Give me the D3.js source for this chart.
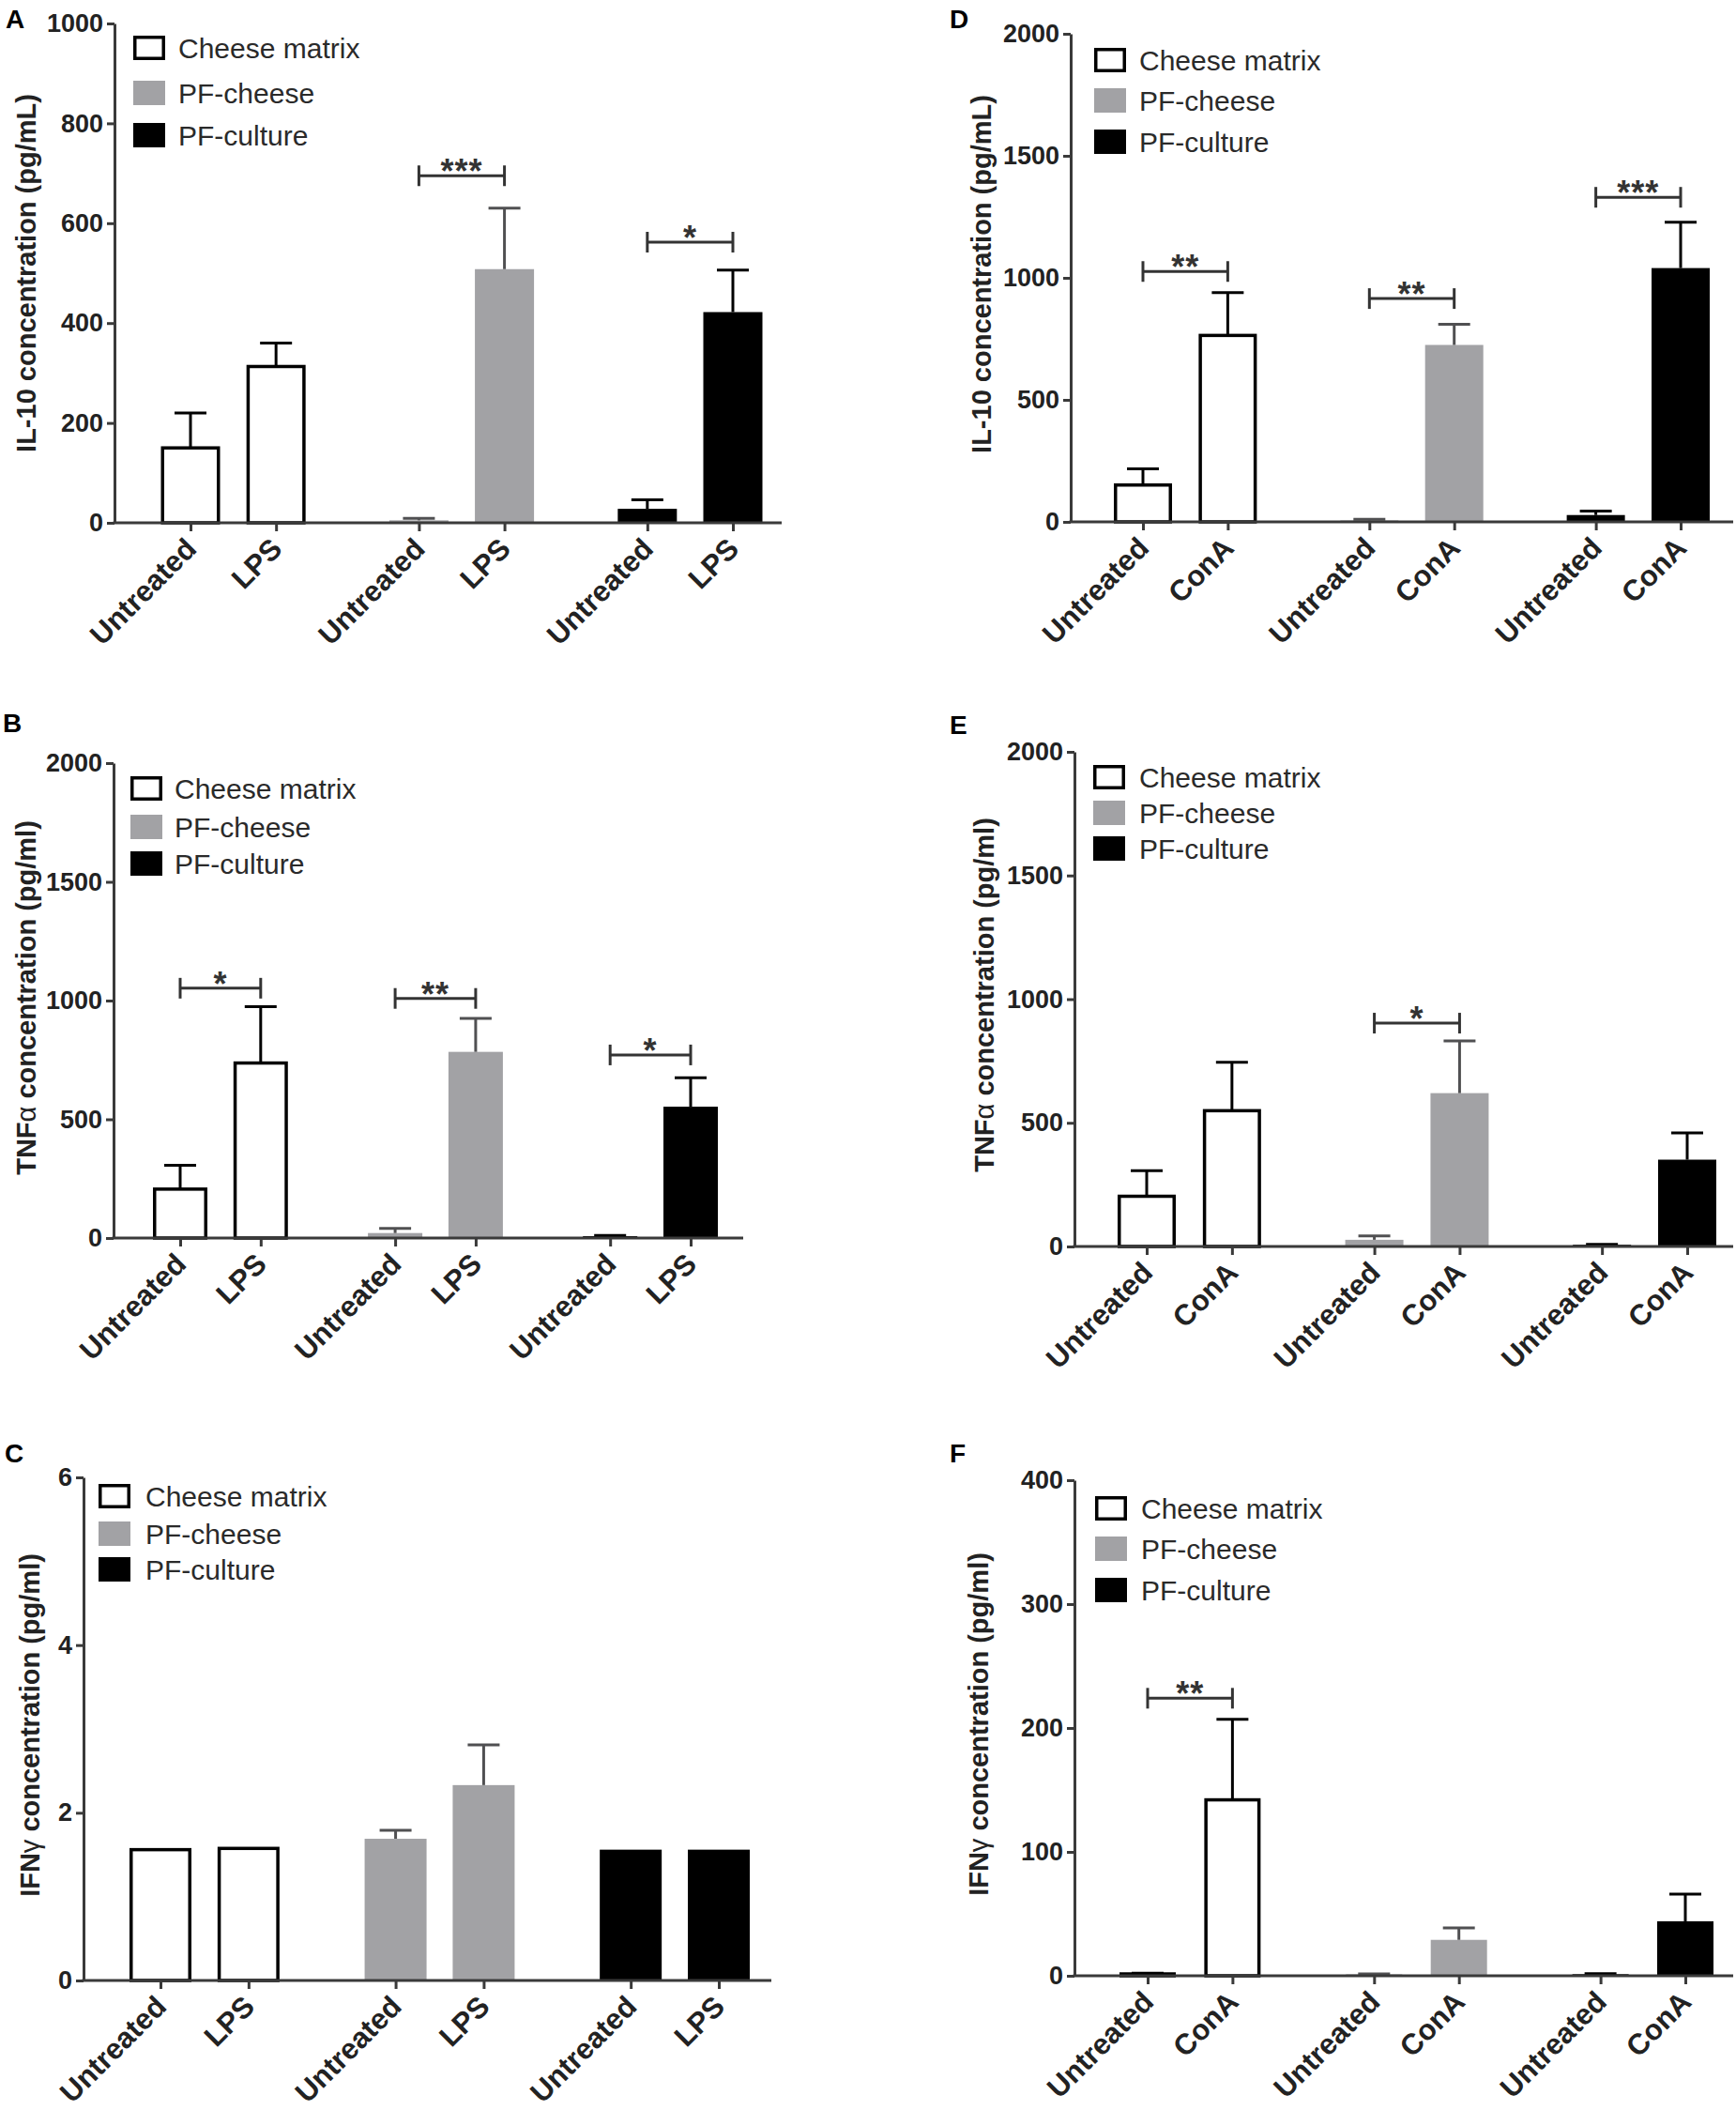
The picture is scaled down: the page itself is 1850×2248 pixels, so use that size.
<!DOCTYPE html>
<html>
<head>
<meta charset="utf-8">
<script src="https://cdn.jsdelivr.net/npm/d3@7"></script>
<style>
  body { margin: 0; background: #fff; }
  svg text { font-family: "Liberation Sans", Arial, Helvetica, sans-serif; }
</style>
</head>
<body>
<div id="chart"></div>
<script>
// ---- data ----
var seriesNames = ["Cheese matrix", "PF-cheese", "PF-culture"];
var lpsLabels = ["Untreated", "LPS"];
var conaLabels = ["Untreated", "ConA"];

// A: IL-10, LPS
var il10LpsMean = [[150, 313], [5, 508], [28, 422]];
var il10LpsErr  = [[70, 47], [4, 122], [18, 84]];
var il10LpsSig  = [{ group: 1, value: 695, label: "***" }, { group: 2, value: 562, label: "*" }];
var il10LpsTicks = [0, 200, 400, 600, 800, 1000];

// B: TNFa, LPS
var tnfLpsMean = [[206, 737], [21, 784], [8, 553]];
var tnfLpsErr  = [[100, 237], [20, 141], [3, 122]];
var tnfLpsSig  = [{ group: 0, value: 1052, label: "*" }, { group: 1, value: 1009, label: "**" }, { group: 2, value: 771, label: "*" }];
var tnfLpsTicks = [0, 500, 1000, 1500, 2000];

// C: IFNg, LPS
var ifnLpsMean = [[1.56, 1.575], [1.69, 2.33], [1.56, 1.56]];
var ifnLpsErr  = [[0, 0], [0.10, 0.48], [0, 0]];
var ifnLpsSig  = [];
var ifnLpsTicks = [0, 2, 4, 6];

// D: IL-10, ConA
var il10ConaMean = [[151, 764], [6, 725], [28, 1040]];
var il10ConaErr  = [[66, 175], [5, 85], [16, 188]];
var il10ConaSig  = [{ group: 0, value: 1026, label: "**" }, { group: 1, value: 915, label: "**" }, { group: 2, value: 1330, label: "***" }];
var il10ConaTicks = [0, 500, 1000, 1500, 2000];

// E: TNFa, ConA
var tnfConaMean = [[203, 549], [27, 620], [7, 351]];
var tnfConaErr  = [[103, 196], [16, 211], [2, 108]];
var tnfConaSig  = [{ group: 1, value: 903, label: "*" }];
var tnfConaTicks = [0, 500, 1000, 1500, 2000];

// F: IFNg, ConA
var ifnConaMean = [[1.5, 142], [1.2, 29], [1.3, 44]];
var ifnConaErr  = [[0.5, 65], [0.3, 9.6], [0.4, 22]];
var ifnConaSig  = [{ group: 0, value: 224, label: "**" }];
var ifnConaTicks = [0, 100, 200, 300, 400];

// ---- styles ----
var fills = ["#ffffff", "#a2a2a5", "#000000"];
var errColors = ["#000000", "#505052", "#000000"];
var axisColor = "#3a3a3a";
var groupStep = 2.67;

var svg = d3.select("#chart").append("svg")
  .attr("width", 1850)
  .attr("height", 2248);

var panels = [
  { letter: "A", lx: 6, ly: 30, title: ["IL-10 concentration (pg/mL)"], tx: 28, ty: 291,
    mean: il10LpsMean, err: il10LpsErr, sig: il10LpsSig, ticks: il10LpsTicks, cond: lpsLabels,
    left: 122, right: 833, top: 25, base: 557, c0: 203, c5: 781, bw: 63,
    legX: 142, legTx: 190, legY: [51, 99, 144] },
  { letter: "B", lx: 3, ly: 780, title: ["TNF", "α", " concentration (pg/ml)"], tx: 28, ty: 1063,
    mean: tnfLpsMean, err: tnfLpsErr, sig: tnfLpsSig, ticks: tnfLpsTicks, cond: lpsLabels,
    left: 121, right: 792, top: 813, base: 1319, c0: 192, c5: 736, bw: 58,
    legX: 139, legTx: 186, legY: [840, 881, 920] },
  { letter: "C", lx: 5, ly: 1558, title: ["IFN", "γ", " concentration (pg/ml)"], tx: 32, ty: 1838,
    mean: ifnLpsMean, err: ifnLpsErr, sig: ifnLpsSig, ticks: ifnLpsTicks, cond: lpsLabels,
    left: 89, right: 822, top: 1574, base: 2110, c0: 171, c5: 766, bw: 66,
    legX: 105, legTx: 155, legY: [1594, 1634, 1672] },
  { letter: "D", lx: 1012, ly: 30, title: ["IL-10 concentration (pg/mL)"], tx: 1046, ty: 292,
    mean: il10ConaMean, err: il10ConaErr, sig: il10ConaSig, ticks: il10ConaTicks, cond: conaLabels,
    left: 1141, right: 1847, top: 36, base: 556, c0: 1218, c5: 1791, bw: 62,
    legX: 1166, legTx: 1214, legY: [64, 107, 151] },
  { letter: "E", lx: 1012, ly: 782, title: ["TNF", "α", " concentration (pg/ml)"], tx: 1049, ty: 1060,
    mean: tnfConaMean, err: tnfConaErr, sig: tnfConaSig, ticks: tnfConaTicks, cond: conaLabels,
    left: 1145, right: 1847, top: 801, base: 1328, c0: 1222, c5: 1798, bw: 62,
    legX: 1165, legTx: 1214, legY: [828, 866, 904] },
  { letter: "F", lx: 1012, ly: 1558, title: ["IFN", "γ", " concentration (pg/ml)"], tx: 1043, ty: 1837,
    mean: ifnConaMean, err: ifnConaErr, sig: ifnConaSig, ticks: ifnConaTicks, cond: conaLabels,
    left: 1145, right: 1847, top: 1577, base: 2105, c0: 1223, c5: 1796, bw: 60,
    legX: 1167, legTx: 1216, legY: [1607, 1650, 1694] }
];

panels.forEach(drawPanel);

function drawPanel(p) {
  var g = svg.append("g");
  var maxTick = p.ticks[p.ticks.length - 1];

  var y = d3.scaleLinear().domain([0, maxTick]).range([p.base, p.top]);
  var x = d3.scaleLinear().domain([0, 2 * groupStep + 1]).range([p.c0, p.c5]);

  // flatten to one row per bar
  var bars = [];
  p.mean.forEach(function(row, s) {
    row.forEach(function(v, c) {
      bars.push({ s: s, c: c, key: s + "-" + c, mean: v, err: p.err[s][c], cx: x(s * groupStep + c) });
    });
  });

  // bars
  g.selectAll("rect.bar")
    .data(bars)
    .enter()
    .append("rect")
    .attr("class", "bar")
    .attr("x", function(d) { return d.s === 0 ? d.cx - p.bw / 2 + 1.75 : d.cx - p.bw / 2; })
    .attr("width", function(d) { return d.s === 0 ? p.bw - 3.5 : p.bw; })
    .attr("y", function(d) { return y(d.mean); })
    .attr("height", function(d) { return p.base - y(d.mean); })
    .attr("fill", function(d) { return fills[d.s]; })
    .attr("stroke", function(d) { return d.s === 0 ? "#000" : "none"; })
    .attr("stroke-width", 3.5);

  // error bars (upper only)
  var eb = g.selectAll("g.err")
    .data(bars.filter(function(d) { return d.err > 0; }))
    .enter()
    .append("g")
    .attr("stroke", function(d) { return errColors[d.s]; })
    .attr("stroke-width", 3);
  eb.append("line")
    .attr("x1", function(d) { return d.cx; })
    .attr("x2", function(d) { return d.cx; })
    .attr("y1", function(d) { return y(d.mean); })
    .attr("y2", function(d) { return y(d.mean + d.err); });
  eb.append("line")
    .attr("x1", function(d) { return d.cx - 17; })
    .attr("x2", function(d) { return d.cx + 17; })
    .attr("y1", function(d) { return y(d.mean + d.err); })
    .attr("y2", function(d) { return y(d.mean + d.err); });

  // y axis
  var yAxis = g.append("g")
    .attr("transform", "translate(" + p.left + ",0)")
    .call(d3.axisLeft(y).tickValues(p.ticks).tickFormat(d3.format("d"))
      .tickSize(8).tickSizeOuter(0).tickPadding(4));
  yAxis.select(".domain").attr("stroke", axisColor).attr("stroke-width", 3);
  yAxis.selectAll(".tick line").attr("stroke", axisColor).attr("stroke-width", 3);
  yAxis.selectAll(".tick text")
    .attr("fill", "#222")
    .attr("font-size", "27px")
    .attr("font-weight", "bold")
    .attr("font-family", "Liberation Sans, Arial, sans-serif");

  // x axis: ticks at bar centres
  var xCat = d3.scaleOrdinal()
    .domain(bars.map(function(d) { return d.key; }))
    .range(bars.map(function(d) { return d.cx; }));
  var xAxis = g.append("g")
    .attr("transform", "translate(0," + p.base + ")")
    .call(d3.axisBottom(xCat).tickSize(9).tickSizeOuter(0)
      .tickFormat(function(k) { return p.cond[+k.split("-")[1]]; }));
  xAxis.select(".domain").remove();
  xAxis.selectAll(".tick line").attr("stroke", axisColor).attr("stroke-width", 3);
  xAxis.selectAll(".tick text")
    .attr("fill", "#222")
    .attr("font-size", "31px")
    .attr("font-weight", "bold")
    .attr("font-family", "Liberation Sans, Arial, sans-serif")
    .attr("text-anchor", "end")
    .attr("x", 0)
    .attr("y", 0)
    .attr("dy", "0.35em")
    .attr("transform", "translate(0,22) rotate(-45)");

  g.append("line")
    .attr("x1", p.left - 1.5).attr("x2", p.right)
    .attr("y1", p.base).attr("y2", p.base)
    .attr("stroke", axisColor).attr("stroke-width", 3);

  // significance brackets
  p.sig.forEach(function(s) {
    var x1 = x(s.group * groupStep), x2 = x(s.group * groupStep + 1), yy = y(s.value);
    var b = g.append("g").attr("stroke", "#333").attr("stroke-width", 3);
    b.append("line").attr("x1", x1).attr("x2", x2).attr("y1", yy).attr("y2", yy);
    b.append("line").attr("x1", x1).attr("x2", x1).attr("y1", yy - 11).attr("y2", yy + 11);
    b.append("line").attr("x1", x2).attr("x2", x2).attr("y1", yy - 11).attr("y2", yy + 11);
    g.append("text")
      .attr("x", (x1 + x2) / 2)
      .attr("y", yy + 8)
      .attr("text-anchor", "middle")
      .attr("font-size", "36px")
      .attr("font-weight", "bold")
      .attr("letter-spacing", "1px")
      .attr("fill", "#333")
      .text(s.label);
  });

  // legend
  seriesNames.forEach(function(name, i) {
    var cy = p.legY[i];
    g.append("rect")
      .attr("x", i === 0 ? p.legX + 1.75 : p.legX)
      .attr("y", i === 0 ? cy - 13 + 1.75 : cy - 13)
      .attr("width", i === 0 ? 34 - 3.5 : 34)
      .attr("height", i === 0 ? 26 - 3.5 : 26)
      .attr("fill", fills[i])
      .attr("stroke", i === 0 ? "#000" : "none")
      .attr("stroke-width", 3.5);
    g.append("text")
      .attr("x", p.legTx)
      .attr("y", cy)
      .attr("dy", "0.35em")
      .attr("font-size", "30px")
      .attr("fill", "#2a2a2a")
      .text(name);
  });

  // y title
  var t = g.append("text")
    .attr("transform", "translate(" + p.tx + "," + p.ty + ") rotate(-90)")
    .attr("text-anchor", "middle")
    .attr("dy", "0.35em")
    .attr("font-size", "29px")
    .attr("font-weight", "bold")
    .attr("fill", "#222");
  p.title.forEach(function(part, i) {
    t.append("tspan")
      .attr("font-weight", i === 1 ? "normal" : "bold")
      .text(part);
  });

  // panel letter
  g.append("text")
    .attr("x", p.lx)
    .attr("y", p.ly)
    .attr("font-size", "28px")
    .attr("font-weight", "bold")
    .attr("fill", "#000")
    .text(p.letter);
}
</script>
</body>
</html>
